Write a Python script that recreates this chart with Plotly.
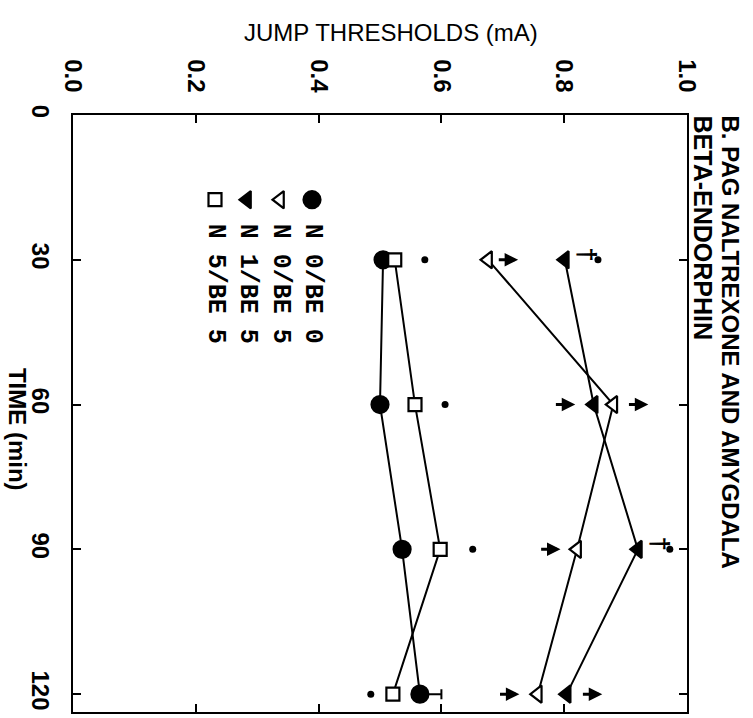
import plotly.graph_objects as go

# ---------------- data ----------------
times = [30, 60, 90, 120]
n0_be0 = [0.505, 0.500, 0.536, 0.565]
n0_be5 = [0.676, 0.880, 0.821, 0.757]
n1_be5 = [0.801, 0.848, 0.920, 0.804]
n5_be5 = [0.524, 0.557, 0.598, 0.521]
n0_be0_err = [0, 0, 0, 0.035]

dot_times = [30, 30, 60, 90, 90, 120]
dot_vals = [0.573, 0.855, 0.606, 0.651, 0.972, 0.485]
arrow_times = [30, 60, 60, 90, 120, 120]
arrow_vals = [0.708, 0.801, 0.920, 0.777, 0.710, 0.845]
dagger_times = [30, 90]
dagger_vals = [0.838, 0.956]

x_ticks = [0.0, 0.2, 0.4, 0.6, 0.8, 1.0]
x_ticktext = ["0.0", "0.2", "0.4", "0.6", "0.8", "1.0"]
y_ticks = [0, 30, 60, 90, 120]
y_ticktext = ["0", "30", "60", "90", "120"]

# name, values, symbol, filled?, size
series = [
    ("N 0/BE 0", n0_be0, "circle", True, 17),
    ("N 0/BE 5", n0_be5, "triangle-left", False, 15),
    ("N 1/BE 5", n1_be5, "triangle-left", True, 15),
    ("N 5/BE 5", n5_be5, "square", False, 13),
]

W, H = 753, 718
L, R, T, B = 73, 66, 115, 4
PW, PH = W - L - R, H - T - B
Y_MAX = 123.7


def px_x(px):
    return (px - L) / PW


def px_y(py):
    return (H - B - py) / PH


MONO = "Liberation Mono, Courier New, monospace"
SANS = "Liberation Sans, Arial, sans-serif"

fig = go.Figure()

for name, vals, sym, filled, size in series:
    kw = {}
    if name == "N 0/BE 0":
        kw["error_x"] = dict(type="data", array=n0_be0_err, arrayminus=[0] * 4,
                             color="black", thickness=2, width=5)
    fig.add_trace(go.Scatter(
        x=vals, y=times, mode="lines+markers", name=name,
        line=dict(color="black", width=2),
        marker=dict(symbol=sym, size=size, color="black" if filled else "white",
                    line=dict(color="black", width=2.2)),
        showlegend=False, **kw))

fig.add_trace(go.Scatter(x=dot_vals, y=dot_times, mode="markers",
                         marker=dict(color="black", size=7), showlegend=False))

# arrows
half = 0.017
for t, v in zip(arrow_times, arrow_vals):
    fig.add_annotation(x=v + half, y=t, ax=v - half, ay=t, axref="x", ayref="y",
                       xref="x", yref="y", text="", showarrow=True,
                       arrowhead=2, arrowsize=0.9, arrowwidth=3, arrowcolor="black")

for t, v in zip(dagger_times, dagger_vals):
    fig.add_annotation(x=v, y=t, xref="x", yref="y", text="<b>†</b>", showarrow=False,
                       textangle=90, yshift=6, font=dict(family=SANS, size=26, color="black"))

# legend (manual, rotated)
leg_x_px = [312, 280, 247, 215]
leg_sym_y_px = 200
leg_txt_y_px = 222
for (name, vals, sym, filled, size), xp in zip(series, leg_x_px):
    xv = px_x(xp)
    yv = (leg_sym_y_px - T) / PH * Y_MAX
    fig.add_trace(go.Scatter(
        x=[xv], y=[yv], mode="markers", showlegend=False,
        marker=dict(symbol=sym, size=size, color="black" if filled else "white",
                    line=dict(color="black", width=2.2))))
    fig.add_annotation(x=px_x(xp), y=px_y(leg_txt_y_px), xref="paper", yref="paper",
                       text="<b>" + name + "</b>", showarrow=False, textangle=90,
                       xanchor="center", yanchor="top",
                       font=dict(family=MONO, size=25, color="black"))

# panel title (rotated)
fig.add_annotation(x=px_x(730), y=px_y(113), xref="paper", yref="paper",
                   text="<b>B. PAG NALTREXONE AND AMYGDALA</b>", showarrow=False,
                   textangle=90, xanchor="center", yanchor="top",
                   font=dict(family=SANS, size=24, color="black"))
fig.add_annotation(x=px_x(703), y=px_y(113), xref="paper", yref="paper",
                   text="<b>BETA-ENDORPHIN</b>", showarrow=False,
                   textangle=90, xanchor="center", yanchor="top",
                   font=dict(family=SANS, size=25, color="black"))

# axis titles
fig.add_annotation(x=px_x(391), y=px_y(32), xref="paper", yref="paper",
                   text="JUMP THRESHOLDS (mA)", showarrow=False,
                   xanchor="center", yanchor="middle",
                   font=dict(family=SANS, size=24, color="black"))
fig.add_annotation(x=px_x(17), y=px_y(430), xref="paper", yref="paper",
                   text="<b>TIME (min)</b>", showarrow=False, textangle=90,
                   xanchor="center", yanchor="middle",
                   font=dict(family=SANS, size=24, color="black"))

fig.update_xaxes(range=[0, 1.0], side="top", tickvals=x_ticks, ticktext=x_ticktext,
                 tickangle=90, ticks="inside", ticklen=8, tickwidth=2, tickcolor="black",
                 showline=True, linewidth=2, linecolor="black", mirror="ticks",
                 showgrid=False, zeroline=False, ticklabelstandoff=12,
                 tickfont=dict(family=SANS, size=24, color="black", weight="bold"))
fig.update_yaxes(range=[Y_MAX, 0], tickvals=y_ticks, ticktext=y_ticktext,
                 tickangle=90, ticks="inside", ticklen=8, tickwidth=2, tickcolor="black",
                 showline=True, linewidth=2, linecolor="black", mirror="ticks",
                 showgrid=False, zeroline=False, ticklabelstandoff=10,
                 tickfont=dict(family=SANS, size=24, color="black", weight="bold"))

fig.update_layout(width=W, height=H, margin=dict(l=L, r=R, t=T, b=B),
                  plot_bgcolor="white", paper_bgcolor="white", showlegend=False)

fig.write_html("out.html")
